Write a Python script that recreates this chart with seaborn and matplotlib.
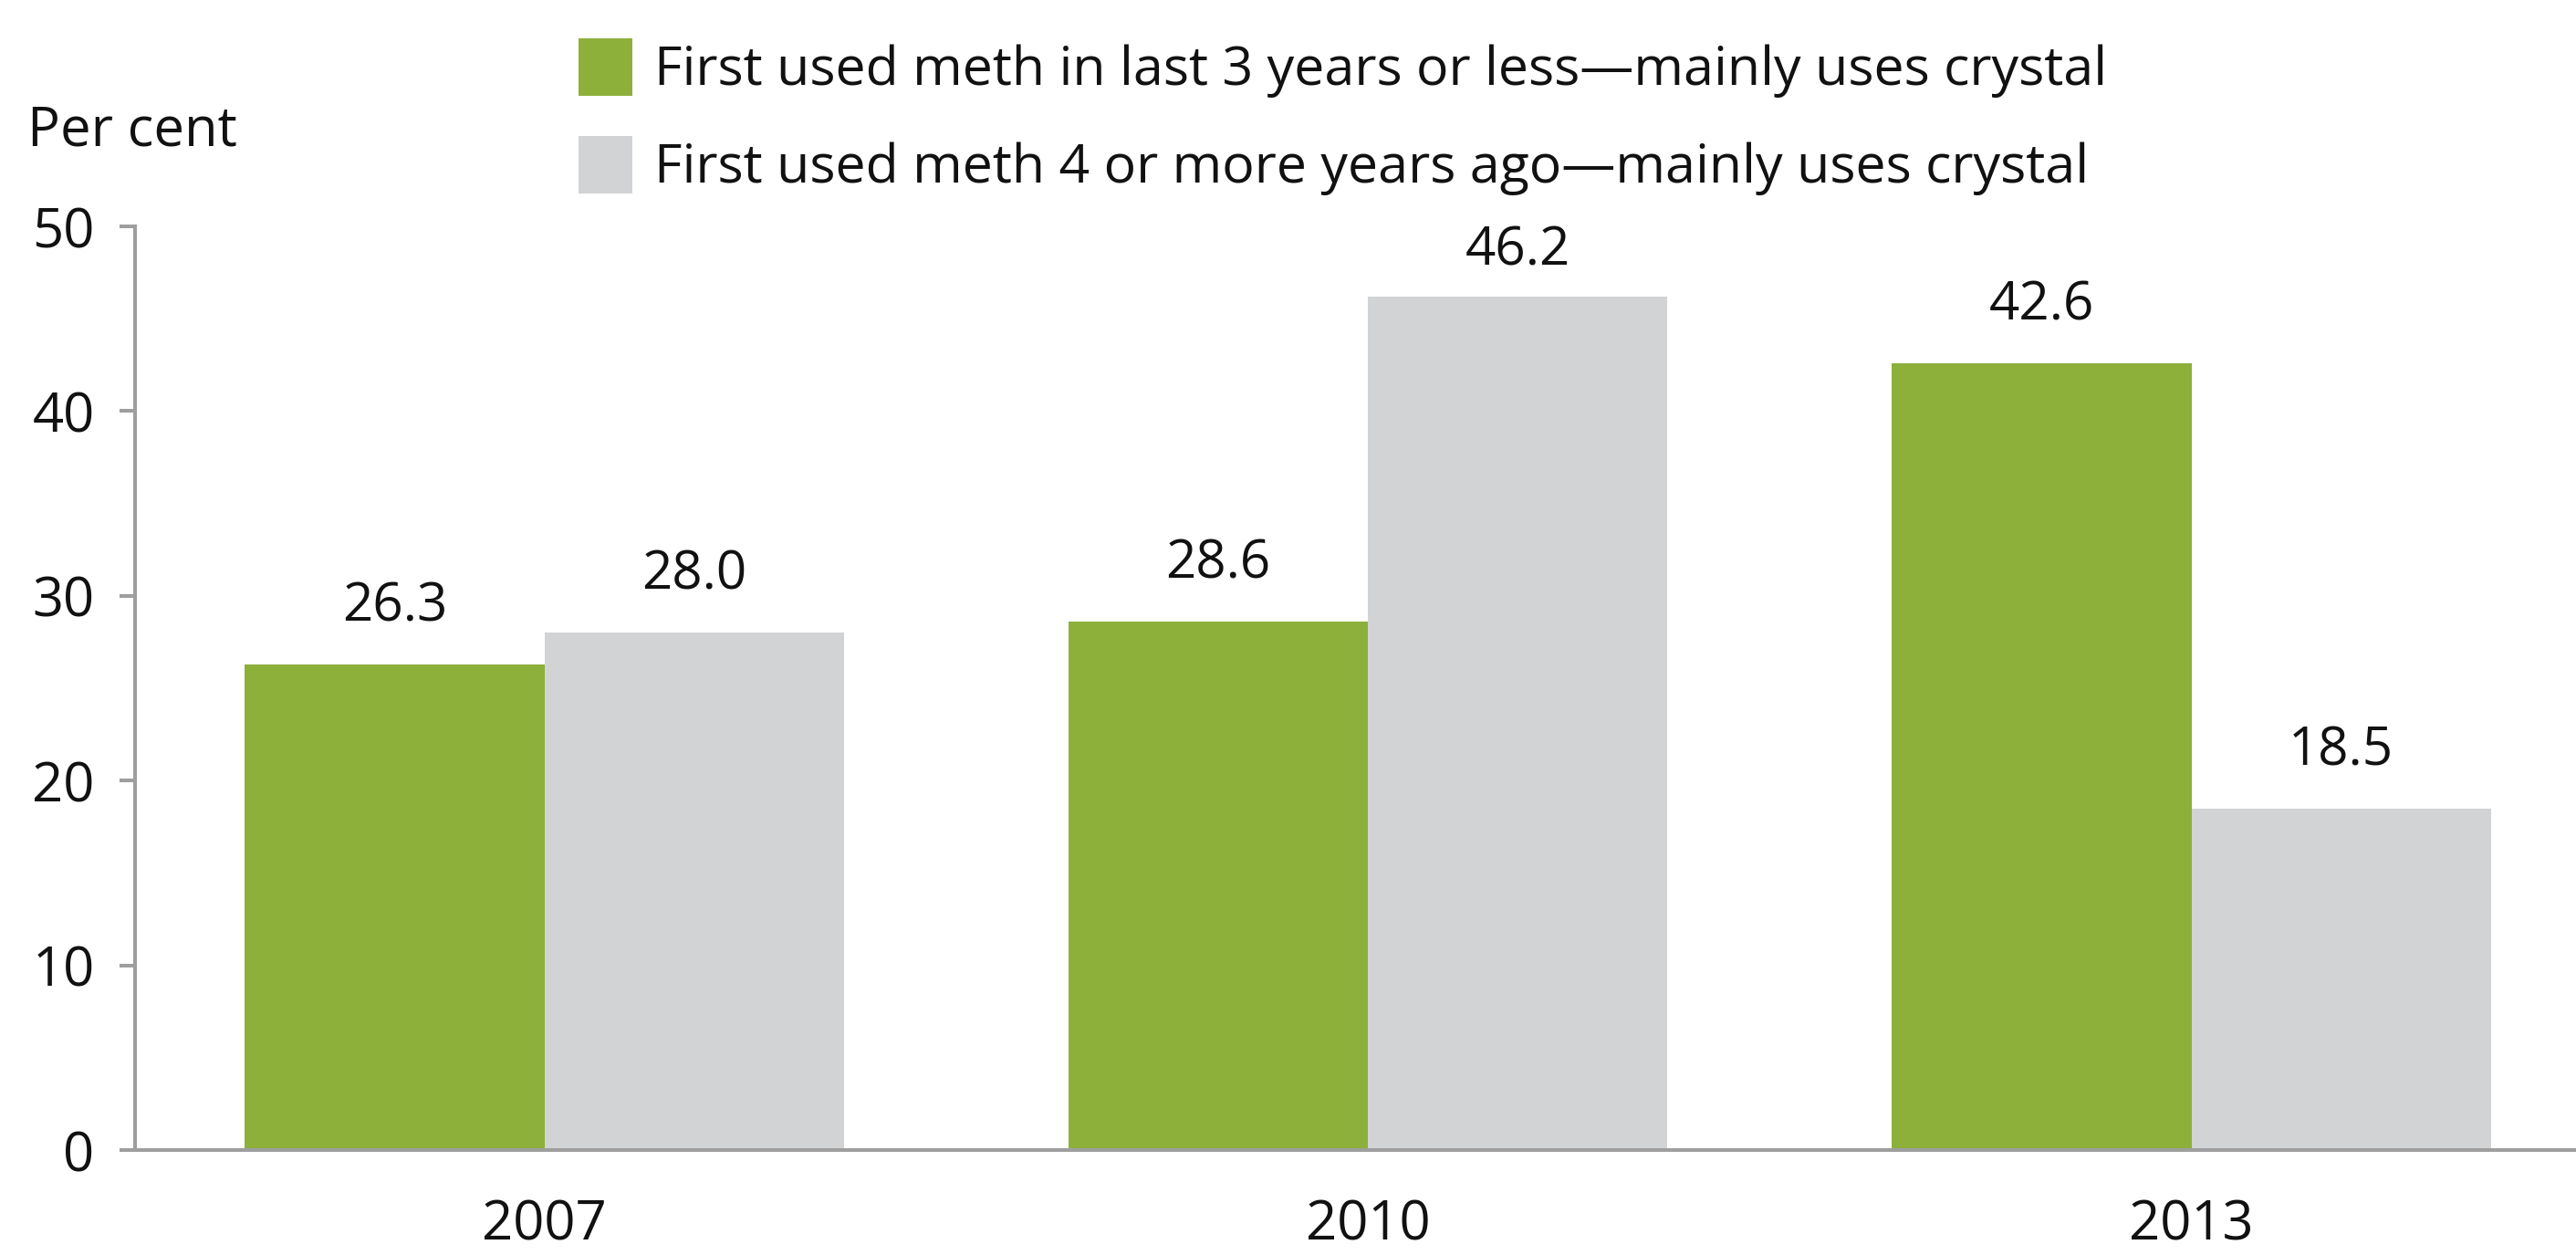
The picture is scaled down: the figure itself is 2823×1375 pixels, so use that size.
import matplotlib
matplotlib.use("Agg")
import matplotlib.pyplot as plt
import seaborn as sns
import pandas as pd

# ---- data ----
years = ["2007", "2010", "2013"]
series_names = [
    "First used meth in last 3 years or less\u2014mainly uses crystal",
    "First used meth 4 or more years ago\u2014mainly uses crystal",
]
recent_values = [26.3, 28.6, 42.6]
older_values = [28.0, 46.2, 18.5]
y_ticks = [0, 10, 20, 30, 40, 50]

colors = ["#8DB03B", "#D1D3D4"]
axis_color = "#9E9E9E"
label_paddings = [[24, 24, 24], [24, 15, 24]]

df = pd.DataFrame({
    "year": years * 2,
    "series": [series_names[0]] * 3 + [series_names[1]] * 3,
    "value": recent_values + older_values,
})

sns.set_theme(style="white")
plt.rcParams["font.family"] = ["Open Sans", "DejaVu Sans"]

W, H = 2823, 1375
fig = plt.figure(figsize=(W / 100, H / 100), dpi=100)
ax = fig.add_axes([148 / W, 1 - 1260 / H, (W - 148) / W, (1260 - 248) / H])

sns.barplot(data=df, x="year", y="value", hue="series", order=years,
            hue_order=series_names, palette=colors, saturation=1,
            width=0.727, linewidth=0, ax=ax)

ax.set_xlim(-0.497, 2.467)
ax.set_ylim(0, 50)
ax.set_yticks(y_ticks)
ax.set_xlabel("")
ax.set_ylabel("")

for c, pads in zip(ax.containers, label_paddings):
    anns = ax.bar_label(c, fmt="%.1f", padding=24, fontsize=42, color="#111111")
    for a, p in zip(anns, pads):
        a.xyann = (0, p)

for s in ["top", "right"]:
    ax.spines[s].set_visible(False)
for s in ["left", "bottom"]:
    ax.spines[s].set_color(axis_color)
    ax.spines[s].set_linewidth(2.9)

ax.tick_params(axis="y", which="major", length=12, width=2.9, color=axis_color,
               direction="out", left=True, pad=20, labelsize=43, labelcolor="#111111")
ax.tick_params(axis="x", which="major", length=0, pad=38, labelsize=43,
               labelcolor="#111111")

fig.text(30 / W, 1 - 144 / H, "Per cent", ha="left", va="center",
         fontsize=43, color="#111111")

handles, labels = ax.get_legend_handles_labels()
ax.get_legend().remove()
fig.legend(handles, labels, loc="upper left",
           bbox_to_anchor=(634 / W, 1 - 42 / H), frameon=False,
           fontsize=42.6, handlelength=0.99, handleheight=1.26,
           handletextpad=0.42, labelspacing=0.7, borderpad=0,
           borderaxespad=0, labelcolor="#111111")

fig.savefig("out.png", dpi=100)
